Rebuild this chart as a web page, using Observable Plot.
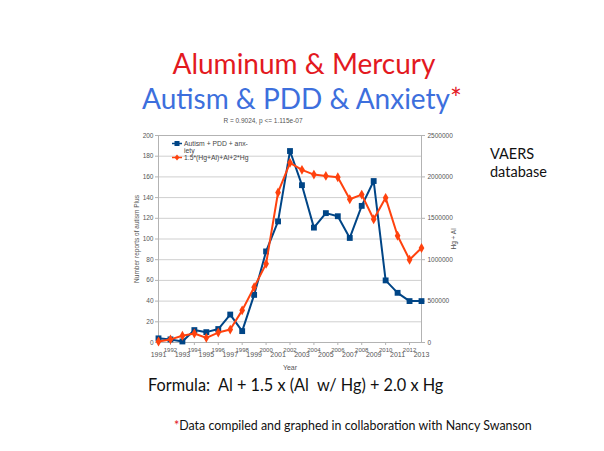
<!DOCTYPE html>
<html><head><meta charset="utf-8">
<script src="https://cdn.jsdelivr.net/npm/d3@7"></script>
<script src="https://cdn.jsdelivr.net/npm/@observablehq/plot@0.6"></script>
<style>
body{margin:0;background:#fff;}
#page{position:relative;width:604px;height:451px;overflow:hidden;background:#fff;font-family:Lato,"Open Sans",sans-serif;}
#page svg{position:absolute;left:0;top:0;}
.abs{position:absolute;white-space:nowrap;line-height:1;}
.leg{position:absolute;font-family:"Liberation Sans",Arial,sans-serif;font-size:6.8px;color:#444;line-height:7px;white-space:nowrap;}
</style></head><body><div id="page"></div>
<script>
// Data
const years = [1991,1992,1993,1994,1995,1996,1997,1998,1999,2000,2001,2002,2003,2004,2005,2006,2007,2008,2009,2010,2011,2012,2013];
const autismPlus = [4,3,1,12,10,13,27,11,46,88,117,185,152,111,125,122,101,132,156,60,48,40,40];
const hgAl = [12500,37500,81000,109000,56000,120000,156000,388000,668000,950000,1812000,2170000,2085000,2028000,2012000,1996000,1730000,1786000,1488000,1747000,1290000,1000000,1142000];
const leftTicks = [0,20,40,60,80,100,120,140,160,180,200];
const rightTicks = [0,500000,1000000,1500000,2000000,2500000];
const evenYears = [1992,1994,1996,1998,2000,2002,2004,2006,2008,2010,2012];
const oddYears = [1991,1993,1995,1997,1999,2001,2003,2005,2007,2009,2011,2013];
const seriesNames = ["Autism + PDD + anx-\niety", "1.5*(Hg+Al)+Al+2*Hg"];
const ratio = 2500000 / 200;

const blue = "#004586", orange = "#ff420e";
const blueData = years.map((y,i) => ({year:y, v:autismPlus[i]}));
const redData = years.map((y,i) => ({year:y, v:hgAl[i] / ratio}));

const chart = Plot.plot({
  width: 604, height: 451,
  marginLeft: 158, marginRight: 183, marginTop: 135, marginBottom: 109,
  style: {fontFamily: "'Liberation Sans', Arial, sans-serif", fontSize: "6px", color: "#555", background: "transparent", overflow: "visible"},
  x: {domain: [1991, 2013]},
  y: {domain: [0, 200]},
  marks: [
    Plot.gridY(leftTicks, {stroke: "#cfcfcf", strokeOpacity: 1}),
    Plot.frame({stroke: "#b3b3b3"}),
    Plot.axisY(leftTicks, {anchor: "left", tickSize: 3, tickPadding: 2, stroke: "#b3b3b3", tickFormat: d => String(d),
      label: "Number reports of autism Plus", labelAnchor: "center", labelOffset: 24, labelArrow: "none", fontSize: 6.5}),
    Plot.axisY(rightTicks.map(v => v / ratio), {anchor: "right", tickSize: 3, tickPadding: 3, stroke: "#b3b3b3",
      tickFormat: d => String(Math.round(d * ratio)),
      label: "Hg + Al", labelAnchor: "center", labelOffset: 34, labelArrow: "none", fontSize: 6.5}),
    Plot.axisX(evenYears, {anchor: "bottom", tickSize: 3, tickPadding: 2, stroke: "#b3b3b3", tickFormat: d => String(d), label: null}),
    Plot.axisX(oddYears, {anchor: "bottom", tickSize: 0, tickPadding: 10, tickFormat: d => String(d),
      label: "Year", labelAnchor: "center", labelOffset: 27, labelArrow: "none", fontSize: 7}),
    Plot.line(blueData, {x: "year", y: "v", stroke: blue, strokeWidth: 2}),
    Plot.dot(blueData, {x: "year", y: "v", symbol: "square", r: 3.3, fill: blue}),
    Plot.line(redData, {x: "year", y: "v", stroke: orange, strokeWidth: 2}),
    Plot.dot(redData, {x: "year", y: "v", symbol: "diamond", r: 3, fill: orange})
  ]
});

const page = document.getElementById("page");
page.appendChild(chart);

function addText(html, left, top, size, color, extra) {
  const d = document.createElement("div");
  d.className = "abs";
  d.style.left = left + "px"; d.style.top = top + "px";
  d.style.fontSize = size + "px"; d.style.color = color;
  if (extra) Object.assign(d.style, extra);
  d.innerHTML = html;
  page.appendChild(d);
  return d;
}
addText("Aluminum &amp; Mercury", 0, 49, 28, "#e3191f", {width: "604px", textAlign: "center", left: "2px"});
addText("Autism &amp; PDD &amp; Anxiety<span style='color:#e3191f'>*</span>", 0, 84, 28, "#3d6fdd", {width: "604px", textAlign: "center", left: "0px"});
addText("R = 0.9024, p &lt;= 1.115e-07", 0, 118, 6.5, "#555", {width: "526px", textAlign: "center", fontFamily: "'Liberation Sans', Arial, sans-serif"});
addText("VAERS<br>database", 490, 145, 14.5, "#111", {lineHeight: "17.5px"});
addText("Formula:&nbsp; Al + 1.5 x (Al&nbsp; w/ Hg) + 2.0 x Hg", 148, 377, 16.3, "#111");
addText("<span style='color:#e3191f'>*</span>Data compiled and graphed in collaboration with Nancy Swanson", 174, 420, 12.4, "#111");

// Legend
const leg = document.createElement("div");
leg.style.position = "absolute"; leg.style.left = "171px"; leg.style.top = "140px";
const sw = [
  `<svg width="12" height="7" style="position:absolute;left:0;top:0"><line x1="1" y1="3.5" x2="11" y2="3.5" stroke="${blue}" stroke-width="1.5"/><rect x="3.5" y="1" width="5" height="5" fill="${blue}"/></svg>`,
  `<svg width="12" height="7" style="position:absolute;left:0;top:0"><line x1="1" y1="3.5" x2="11" y2="3.5" stroke="${orange}" stroke-width="1.5"/><path d="M6,0.5 L8.5,3.5 L6,6.5 L3.5,3.5Z" fill="${orange}"/></svg>`
];
leg.innerHTML =
  `<div class="leg" style="left:0;top:0">${sw[0]}<div style="position:absolute;left:13px;top:0">${seriesNames[0].replace("\n","<br>")}</div></div>` +
  `<div class="leg" style="left:0;top:14px">${sw[1]}<div style="position:absolute;left:13px;top:0">${seriesNames[1]}</div></div>`;
page.appendChild(leg);
</script></body></html>
